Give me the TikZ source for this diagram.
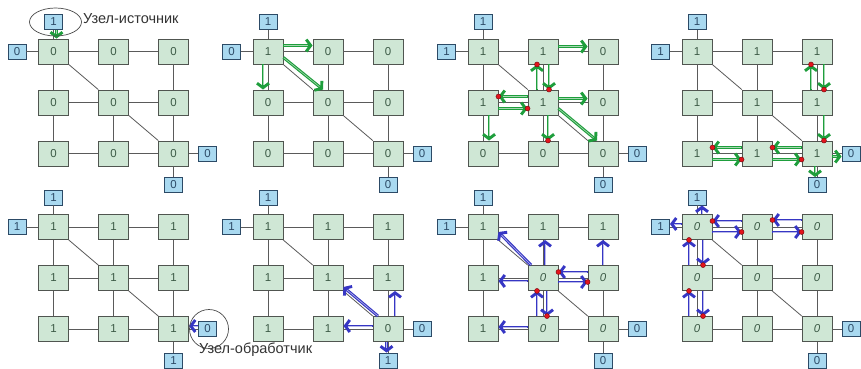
\documentclass[tikz,border=0pt]{standalone}
\usepackage{fontspec}
\setmainfont{Liberation Sans}
\usetikzlibrary{arrows.meta}
\definecolor{agreen}{HTML}{1E9E3C}
\definecolor{ablue}{HTML}{3636C4}
\definecolor{cellfill}{HTML}{CFE7D5}
\definecolor{celldraw}{HTML}{505550}
\definecolor{boxfill}{HTML}{A9D9F0}
\definecolor{boxdraw}{HTML}{2C4A66}
\definecolor{celltext}{HTML}{3C5A46}
\definecolor{dotred}{HTML}{E3141C}
\definecolor{gridcol}{HTML}{5A5A5A}
\tikzset{
 cell/.style={rectangle, draw=celldraw, fill=cellfill, line width=0.9pt, minimum width=30pt, minimum height=25pt, inner sep=0pt, font=\fontsize{11.5}{11.5}\selectfont, text=celltext},
 bbox/.style={rectangle, draw=boxdraw, fill=boxfill, line width=0.9pt, minimum width=18pt, minimum height=15pt, inner sep=0pt, font=\fontsize{11.5}{11.5}\selectfont, text=boxdraw},
 gridline/.style={draw=gridcol, line width=0.8pt},
 arrbase/.style={line width=2.9pt, -{Straight Barb[length=4.5pt,width=12pt]}},
 garr/.style={arrbase, draw=agreen, postaction={draw=agreen!40!white, line width=0.6pt, -, shorten >=4.5pt, shorten <=0.5pt}},
 barr/.style={arrbase, draw=ablue, postaction={draw=ablue!35!white, line width=0.6pt, -, shorten >=4.5pt, shorten <=0.5pt}},
 rdot/.style={fill=dotred, draw=dotred!50!black, line width=0.4pt},
 circ/.style={draw=gray!60!black, line width=0.7pt},
 lbl/.style={font=\fontsize{14.5}{14.5}\selectfont, text=black!80, inner sep=0pt, anchor=west}
}
\newcommand\iz{\textit{0}}
\newcommand\mkpanel[8]{%
 \foreach \vv [count=\ii from 0] in {#4} {%
   \pgfmathtruncatemacro\myr{floor(\ii/3)}%
   \pgfmathtruncatemacro\myc{\ii-3*\myr}%
   \node[cell] (p#1n\myr\myc) at ({#2+53.5+60*\myc},{#3+51.5+51*\myr}) {\vv};
 }
 \node[bbox] (p#1t) at ({#2+53.5},{#3+22}) {#5};
 \node[bbox] (p#1l) at ({#2+17},{#3+51.5}) {#6};
 \node[bbox] (p#1r) at ({#2+207.5},{#3+153.5}) {#7};
 \node[bbox] (p#1b) at ({#2+173.5},{#3+185}) {#8};
 \foreach \aa/\bb in {00/01,01/02,10/11,11/12,20/21,21/22,00/10,10/20,01/11,11/21,02/12,12/22,00/11,11/22}
   \draw[gridline] (p#1n\aa) -- (p#1n\bb);
 \draw[gridline] (p#1t) -- (p#1n00);
 \draw[gridline] (p#1l) -- (p#1n00);
 \draw[gridline] (p#1n22) -- (p#1r);
 \draw[gridline] (p#1n22) -- (p#1b);
}
\newcommand\arw[3]{\draw[#1] #2 -- #3;}
\newcommand\darw[3]{\draw[#1] #2 -- #3; \filldraw[rdot] #3 circle (2.5pt);}
\begin{document}
\begin{tikzpicture}[x=1pt,y=-1pt]
\useasboundingbox (0,0) rectangle (861,368);
\fill[white] (0,0) rectangle (861,368);
\mkpanel{1}{0}{0}{0,0,0,0,0,0,0,0,0}{1}{0}{0}{0}
\mkpanel{2}{214.5}{0}{1,0,0,0,0,0,0,0,0}{1}{0}{0}{0}
\mkpanel{3}{429.5}{0}{1,1,0,1,1,0,0,0,0}{1}{1}{0}{0}
\mkpanel{4}{643.5}{0}{1,1,1,1,1,1,1,1,1}{1}{1}{0}{0}
\mkpanel{5}{0}{175.5}{1,1,1,1,1,1,1,1,1}{1}{1}{0}{1}
\mkpanel{6}{214.5}{175.5}{1,1,1,1,1,1,1,1,0}{1}{1}{0}{1}
\mkpanel{7}{429.5}{175.5}{1,1,1,1,\iz,\iz,1,\iz,\iz}{1}{1}{0}{0}
\mkpanel{8}{643.5}{175.5}{\iz,\iz,\iz,\iz,\iz,\iz,\iz,\iz,\iz}{1}{1}{0}{0}
% panel 1
\arw{garr}{([xshift=3pt]p1t.south)}{([xshift=3pt]p1n00.north)}
\draw[circ] ([xshift=2pt]p1t.center) ellipse [x radius=26, y radius=14];
\node[lbl] (lab1) at (83,19) {Узел-источник};
% panel 2
\arw{garr}{([yshift=6pt]p2n00.east)}{([yshift=6pt]p2n01.west)}
\arw{garr}{([xshift=-5pt]p2n00.south)}{([xshift=-5pt]p2n10.north)}
\arw{garr}{([yshift=-6pt]p2n00.east)}{([xshift=-5pt]p2n11.north)}
% panel 3
\arw{garr}{([yshift=5pt]p3n01.east)}{([yshift=5pt]p3n02.west)}
\darw{garr}{([xshift=-6pt]p3n11.north)}{([xshift=-6pt]p3n01.south)}
\darw{garr}{([xshift=6pt]p3n01.south)}{([xshift=6pt]p3n11.north)}
\darw{garr}{([yshift=6pt]p3n11.west)}{([yshift=6pt]p3n10.east)}
\darw{garr}{([yshift=-6pt]p3n10.east)}{([yshift=-6pt]p3n11.west)}
\arw{garr}{([yshift=4pt]p3n11.east)}{([yshift=4pt]p3n12.west)}
\arw{garr}{([yshift=-6pt]p3n11.east)}{([xshift=-6pt]p3n22.north)}
\arw{garr}{([xshift=6pt]p3n10.south)}{([xshift=6pt]p3n20.north)}
\darw{garr}{([xshift=5pt]p3n11.south)}{([xshift=5pt]p3n21.north)}
% panel 4
\darw{garr}{([xshift=-6pt]p4n12.north)}{([xshift=-6pt]p4n02.south)}
\darw{garr}{([xshift=7pt]p4n02.south)}{([xshift=7pt]p4n12.north)}
\darw{garr}{([xshift=7pt]p4n12.south)}{([xshift=7pt]p4n22.north)}
\darw{garr}{([yshift=6pt]p4n22.west)}{([yshift=6pt]p4n21.east)}
\darw{garr}{([yshift=-6pt]p4n21.east)}{([yshift=-6pt]p4n22.west)}
\darw{garr}{([yshift=6pt]p4n21.west)}{([yshift=6pt]p4n20.east)}
\darw{garr}{([yshift=-6pt]p4n20.east)}{([yshift=-6pt]p4n21.west)}
\arw{garr}{([yshift=-3pt]p4n22.east)}{([yshift=-3pt]p4r.west)}
\arw{garr}{([xshift=-2pt]p4n22.south)}{([xshift=-2pt]p4b.north)}
% panel 5
\arw{barr}{([yshift=3pt]p5r.west)}{([yshift=3pt]p5n22.east)}
\draw[circ] ([xshift=1.5pt]p5r.center) circle [radius=19.5pt];
\node[lbl] (lab2) at (199,350) {Узел-обработчик};
% panel 6
\arw{barr}{([yshift=3pt]p6n22.west)}{([yshift=3pt]p6n21.east)}
\arw{barr}{([xshift=-10pt]p6n22.north)}{([yshift=-9pt]p6n11.east)}
\arw{barr}{([xshift=7pt]p6n22.north)}{([xshift=7pt]p6n12.south)}
\arw{barr}{([xshift=-1.5pt]p6n22.south)}{([xshift=-1.5pt]p6b.north)}
% panel 7
\arw{barr}{([xshift=-12pt]p7n11.north)}{([yshift=-5pt]p7n00.east)}
\arw{barr}{([xshift=2pt]p7n11.north)}{([xshift=2pt]p7n01.south)}
\arw{barr}{(p7n12.north)}{(p7n02.south)}
\arw{barr}{([yshift=-3pt]p7n11.west)}{([yshift=-3pt]p7n10.east)}
\arw{barr}{([yshift=2pt]p7n21.west)}{([yshift=2pt]p7n20.east)}
\darw{barr}{([yshift=6pt]p7n12.west)}{([yshift=6pt]p7n11.east)}
\darw{barr}{([yshift=-4pt]p7n11.east)}{([yshift=-4pt]p7n12.west)}
\darw{barr}{([xshift=-6pt]p7n21.north)}{([xshift=-6pt]p7n11.south)}
\darw{barr}{([xshift=4pt]p7n11.south)}{([xshift=4pt]p7n21.north)}
% panel 8
\arw{barr}{([xshift=5pt]p8n00.north)}{([xshift=5pt]p8t.south)}
\arw{barr}{([yshift=3pt]p8n00.west)}{([yshift=3pt]p8l.east)}
\darw{barr}{([yshift=6pt]p8n01.west)}{([yshift=6pt]p8n00.east)}
\darw{barr}{([yshift=-5pt]p8n00.east)}{([yshift=-5pt]p8n01.west)}
\darw{barr}{([yshift=7pt]p8n02.west)}{([yshift=7pt]p8n01.east)}
\darw{barr}{([yshift=-5pt]p8n01.east)}{([yshift=-5pt]p8n02.west)}
\darw{barr}{([xshift=-8pt]p8n10.north)}{([xshift=-8pt]p8n00.south)}
\darw{barr}{([xshift=6pt]p8n00.south)}{([xshift=6pt]p8n10.north)}
\darw{barr}{([xshift=-8pt]p8n20.north)}{([xshift=-8pt]p8n10.south)}
\darw{barr}{([xshift=6pt]p8n10.south)}{([xshift=6pt]p8n20.north)}
\end{tikzpicture}
\end{document}
